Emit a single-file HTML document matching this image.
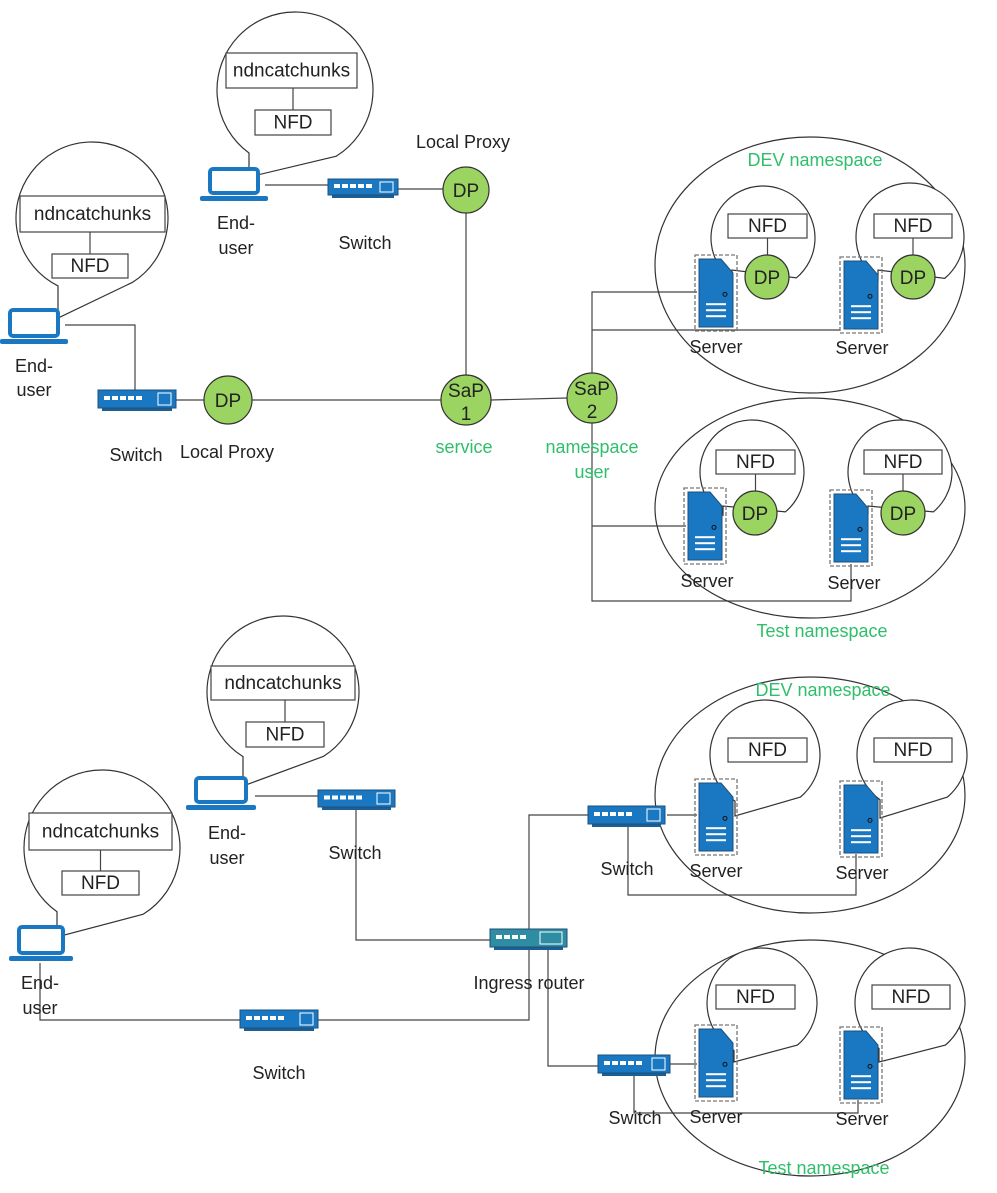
<!DOCTYPE html>
<html><head><meta charset="utf-8"><style>
html,body{margin:0;padding:0;background:#fff}
svg{display:block}
text{font-family:"Liberation Sans",sans-serif;font-size:18px;fill:#222;text-anchor:middle}
.g{fill:#2fbf6a}
</style></head><body>
<svg id="s" width="997" height="1193" viewBox="0 0 997 1193" xmlns="http://www.w3.org/2000/svg">
<g id="lines" fill="none" stroke="#444" stroke-width="1.2">
<polyline points="265,185 330,185"/>
<polyline points="398,189 444,189"/>
<polyline points="466,213 466,376"/>
<polyline points="65,325 135,325 135,392"/>
<polyline points="176,400 204,400"/>
<polyline points="252,400 441,400"/>
<polyline points="491,400 567,398"/>
<polyline points="592,373 592,292 697,292"/>
<polyline points="592,330 840,330"/>
<polyline points="592,423 592,601 851,601 851,564"/>
<polyline points="592,526 686,526"/>
<polyline points="255,796 318,796"/>
<polyline points="356,808 356,940 490,940"/>
<polyline points="40,963 40,1020 240,1020"/>
<polyline points="318,1020 529,1020 529,815 590,815"/>
<polyline points="667,815 697,815"/>
<polyline points="628,820 628,895 856,895 856,854"/>
<polyline points="548,948 548,1066 600,1066"/>
<polyline points="670,1064 697,1064"/>
<polyline points="634,1068 634,1113 858,1113 858,1100"/>
</g>
<g fill="none" stroke="#333" stroke-width="1.2">
<ellipse cx="810" cy="265" rx="155" ry="128"/>
<ellipse cx="810" cy="508" rx="155" ry="110"/>
<ellipse cx="810" cy="795" rx="155" ry="118"/>
<ellipse cx="810" cy="1058" rx="155" ry="118"/>
</g>
<g id="dyn"></g>
<g id="txt">
<text x="463" y="148">Local Proxy</text>
<text x="236" y="229">End-</text><text x="236" y="254">user</text>
<text x="365" y="249">Switch</text>
<text x="34" y="372">End-</text><text x="34" y="396">user</text>
<text x="136" y="461">Switch</text>
<text x="227" y="458">Local Proxy</text>
<text class="g" x="464" y="453">service</text>
<text class="g" x="592" y="453">namespace</text>
<text class="g" x="592" y="478">user</text>
<text class="g" x="815" y="166">DEV namespace</text>
<text x="716" y="353">Server</text><text x="862" y="354">Server</text>
<text x="707" y="587">Server</text><text x="854" y="589">Server</text>
<text class="g" x="822" y="637">Test namespace</text>
<text x="227" y="839">End-</text><text x="227" y="864">user</text>
<text x="355" y="859">Switch</text>
<text x="40" y="989">End-</text><text x="40" y="1014">user</text>
<text x="279" y="1079">Switch</text>
<text x="529" y="989">Ingress router</text>
<text x="627" y="875">Switch</text>
<text x="716" y="877">Server</text><text x="862" y="879">Server</text>
<text class="g" x="823" y="696">DEV namespace</text>
<text x="635" y="1124">Switch</text>
<text x="716" y="1123">Server</text><text x="862" y="1125">Server</text>
<text class="g" x="824" y="1174">Test namespace</text>
</g>
</svg>
<script>
var o='';
function bubble(cx,cy,r,tx,ty,bAng){
 var dx=tx-cx; if(Math.abs(dx)>r-2)dx=(dx<0?-1:1)*(r-2);
 var ax=cx+dx, ay=cy+Math.sqrt(r*r-dx*dx);
 var b=bAng*Math.PI/180, bx=cx+r*Math.cos(b), by=cy+r*Math.sin(b);
 o+='<path d="M'+bx+','+by+' A'+r+','+r+' 0 1 0 '+ax+','+ay+' L'+tx+','+ty+' Z" fill="#fff" stroke="#333" stroke-width="1.2"/>';
}
function box(x1,y1,x2,y2,t,fs){
 o+='<rect x="'+x1+'" y="'+y1+'" width="'+(x2-x1)+'" height="'+(y2-y1)+'" fill="#fff" stroke="#444" stroke-width="1.2"/>';
 o+='<text x="'+((x1+x2)/2)+'" y="'+((y1+y2)/2+6)+'" style="font-size:'+(fs||18)+'px">'+t+'</text>';
}
function vl(x,y1,y2){o+='<line x1="'+x+'" y1="'+y1+'" x2="'+x+'" y2="'+y2+'" stroke="#444" stroke-width="1.2"/>';}
function client(cx,cy,r,tx,ty,b1,b2,b3,b4,n1,n2,n3,n4){
 bubble(cx,cy,r,tx,ty,58);
 box(b1,b2,b3,b4,'ndncatchunks',19);
 box(n1,n2,n3,n4,'NFD',19);
 vl((n1+n3)/2,b4,n2);
}
function laptop(x,y,w,h){
 o+='<rect x="'+(x+2)+'" y="'+(y+2)+'" width="'+(w-4)+'" height="'+(h-4)+'" rx="3" fill="#fff" stroke="#1a78c2" stroke-width="4"/>';
 o+='<rect x="'+(x-8)+'" y="'+(y+h+1)+'" width="'+(w+16)+'" height="5" rx="2" fill="#1a78c2"/>';
}
function sw(x,y,w,h,col,router){
 col=col||'#1a78c2';
 o+='<rect x="'+(x+4)+'" y="'+(y+h)+'" width="'+(w-8)+'" height="3" fill="#1c5f95"/>';
 o+='<rect x="'+x+'" y="'+y+'" width="'+w+'" height="'+h+'" fill="'+col+'" stroke="#1c4f7a" stroke-width="1"/>';
 var n=router?4:5;
 for(var i=0;i<n;i++){o+='<rect x="'+(x+6+i*8)+'" y="'+(y+h/2-3)+'" width="6" height="4" fill="#fff"/>';}
 var bw=router?22:13;
 o+='<rect x="'+(x+w-bw-5)+'" y="'+(y+3)+'" width="'+bw+'" height="'+(h-6)+'" fill="'+col+'" stroke="#fff" stroke-width="1"/>';
}
function server(x,y,w,h){
 o+='<rect x="'+(x-4)+'" y="'+(y-4)+'" width="'+(w+8)+'" height="'+(h+8)+'" fill="none" stroke="#777" stroke-width="1.3" stroke-dasharray="4,2"/>';
 o+='<path d="M'+x+','+y+' L'+(x+w-12)+','+y+' L'+(x+w)+','+(y+14)+' L'+(x+w)+','+(y+h)+' L'+x+','+(y+h)+' Z" fill="#1a78c2" stroke="#1c4f7a" stroke-width="1"/>';
 o+='<circle cx="'+(x+w-8)+'" cy="'+(y+h*0.52)+'" r="2" fill="none" stroke="#111" stroke-width="1"/>';
 for(var i=0;i<3;i++){o+='<rect x="'+(x+w/2-10)+'" y="'+(y+h*0.65+i*6)+'" width="20" height="2" fill="#fff"/>';}
}
function dp(cx,cy,r,t1,t2){
 o+='<circle cx="'+cx+'" cy="'+cy+'" r="'+r+'" fill="#9cd462" stroke="#333" stroke-width="1.2"/>';
 if(t2){o+='<text x="'+cx+'" y="'+(cy-3)+'" style="font-size:19px">'+t1+'</text><text x="'+cx+'" y="'+(cy+20)+'" style="font-size:19px">'+t2+'</text>';}
 else o+='<text x="'+cx+'" y="'+(cy+7)+'" style="font-size:19px">'+t1+'</text>';
}
function srvBubble(cx,cy,r,tx,ty,n1,n2,n3,n4,d){
 bubble(cx,cy,r,tx,ty,50);
 box(n1,n2,n3,n4,'NFD',19);
 if(d){vl((n1+n3)/2,n4,d[1]-d[2]);}
}
client(295,90,78,249,177,226,53,357,88,255,110,331,135);
laptop(208,167,52,28);
client(92,218,76,58,318,20,196,165,232,52,254,128,278);
laptop(8,308,52,30);
client(283,692,76,243,786,211,666,355,700,246,722,324,747);
laptop(194,776,54,28);
client(102,848,78,57,937,29,813,172,850,62,871,139,895);
laptop(17,925,48,30);
sw(328,179,70,16);sw(98,390,78,18);
sw(318,790,77,17);sw(240,1010,78,18);
sw(490,929,77,18,'#2e8ca3',true);
sw(588,806,77,18);sw(598,1055,72,18);
srvBubble(763,238,52,732,270,728,214,807,238,[767,277,22]);
server(699,259,34,68);dp(767,277,22,'DP');
srvBubble(910,237,54,878,270,874,214,952,238,[913,277,22]);
server(844,261,34,68);dp(913,277,22,'DP');
srvBubble(752,472,52,723,506,716,450,795,474,[755,513,22]);
server(688,492,34,68);dp(755,513,22,'DP');
srvBubble(900,472,52,868,506,864,450,942,474,[903,513,22]);
server(834,494,34,68);dp(903,513,22,'DP');
srvBubble(765,755,55,735,816,728,738,807,762);
server(699,783,34,68);
srvBubble(912,755,55,880,818,874,738,952,762);
server(844,785,34,68);
srvBubble(762,1003,55,734,1062,716,985,795,1009);
server(699,1029,34,68);
srvBubble(910,1003,55,879,1062,872,985,950,1009);
server(844,1031,34,68);
dp(466,190,23,'DP');dp(228,400,24,'DP');
dp(466,400,25,'SaP','1');dp(592,398,25,'SaP','2');
document.getElementById('dyn').innerHTML=o;
</script>
</body></html>
